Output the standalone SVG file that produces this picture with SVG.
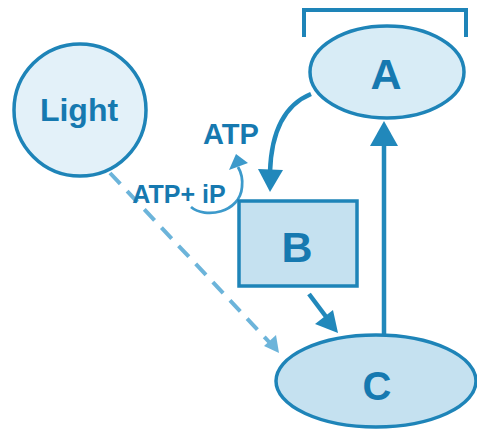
<svg xmlns="http://www.w3.org/2000/svg" width="477" height="430" viewBox="0 0 477 430">
<style>
.lbl{font-family:"Liberation Sans",Arial,sans-serif;font-weight:bold;fill:#1679b0;text-anchor:middle}
.node{stroke:#1e84b8;stroke-width:3.5}
.conn{fill:none;stroke:#2188bb;stroke-width:4.5}
.head{fill:#2188bb;stroke:none}
</style>
<rect width="477" height="430" fill="#ffffff"/>
<g id="bracket">
<path d="M304,37 V10 H466 V37" fill="none" stroke="#1e84b8" stroke-width="4"/>
</g>
<g id="connectors">
<path d="M110,173 L272,345" fill="none" stroke="#6cb4da" stroke-width="4" stroke-dasharray="15,10"/>
<polygon points="279,353 264,346 276,335" fill="#6cb4da"/>
<path class="conn" d="M384,335 V142"/>
<polygon class="head" points="384,121 370,146 398,146"/>
<path class="conn" d="M311,94 Q272,110 270,172"/>
<polygon class="head" points="270,192 258,169 283,170"/>
<path class="conn" d="M309,294 L327,318"/>
<polygon class="head" points="338,333 315,324 333,310"/>
<path d="M191,207 C205,219 240,213 242,187 C243,178 241,172 238,167" fill="none" stroke="#3d9acb" stroke-width="2.8"/>
<polygon points="236,154 229,170 248,163" fill="#3d9acb"/>
</g>
<g id="light">
<circle class="node" cx="80" cy="110" r="66" fill="#e3f1f9"/>
<text class="lbl" x="79" y="121" font-size="32">Light</text>
</g>
<g id="A">
<ellipse class="node" cx="387" cy="72" rx="77" ry="46" fill="#d8ecf6"/>
<text class="lbl" x="386" y="89" font-size="43">A</text>
</g>
<g id="B">
<rect class="node" x="239" y="201" width="118" height="85" fill="#c5e1f0"/>
<text class="lbl" x="297" y="262" font-size="43">B</text>
</g>
<g id="C">
<ellipse class="node" cx="376" cy="381" rx="100" ry="46" fill="#c5e1f0"/>
<text class="lbl" x="377" y="400" font-size="40">C</text>
</g>
<g id="atp">
<text class="lbl" x="231" y="144" font-size="29">ATP</text>
</g>
<g id="atpip">
<text class="lbl" x="179" y="203" font-size="25">ATP+ iP</text>
</g>
</svg>
